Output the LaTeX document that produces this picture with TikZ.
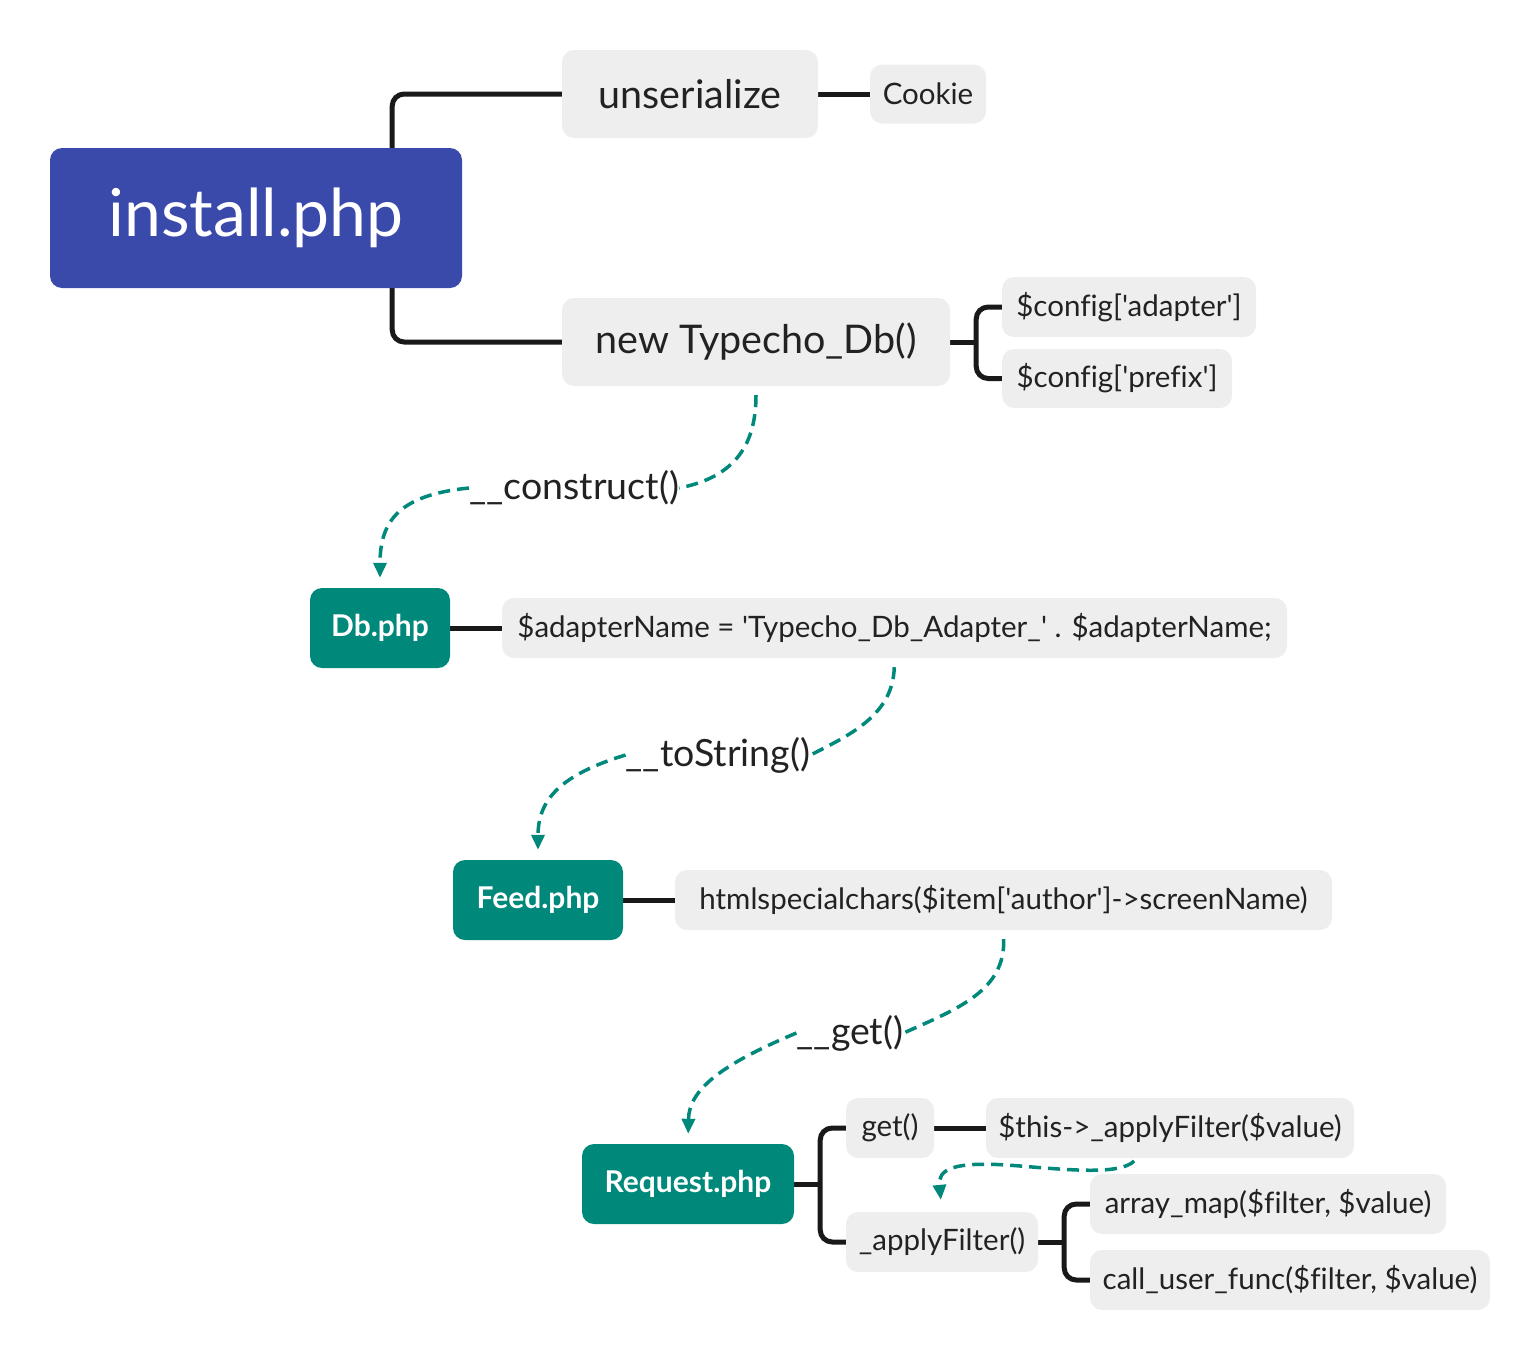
\documentclass[tikz,border=0pt]{standalone}
\usepackage{fontspec}
\setmainfont{Lato}[Ligatures={TeXOff,NoCommon}]
\usetikzlibrary{arrows.meta,backgrounds}
\definecolor{xmblue}{RGB}{58,74,171}
\definecolor{xmteal}{RGB}{0,137,123}
\definecolor{xmgray}{RGB}{238,238,238}
\definecolor{xmtext}{RGB}{34,34,34}

\tikzset{
  box/.style={rounded corners=12pt, inner sep=0pt, text=xmtext},
  mainbox/.style={box, fill=xmblue, text=white, font=\fontsize{66}{78}\selectfont},
  topicbox/.style={box, fill=xmgray, font=\fontsize{39.5}{46}\selectfont},
  subbox/.style={box, fill=xmgray, font=\fontsize{29.5}{36}\selectfont},
  filebox/.style={box, fill=xmteal, text=white, font=\bfseries\fontsize{30}{36}\selectfont},
  calllabel/.style={inner sep=0pt, text=xmtext, font=\fontsize{37.5}{44}\selectfont},
  branch/.style={line width=5pt, rounded corners=12pt, black!90},
  dlink/.style={xmteal, line width=3.5pt, dash pattern=on 12pt off 7pt},
  dtip/.style={-{Triangle[width=13pt,length=15pt]}}
}

\begin{document}
\begin{tikzpicture}[x=1pt, y=-1pt]
    \useasboundingbox (0,0) rectangle (1540,1360);

    % root and first level
    \node[mainbox, minimum width=412pt, minimum height=140pt] (install) at (256,218) {install.php};
    \node[topicbox, minimum width=256pt, minimum height=88pt] (unser) at (690,94) {unserialize};
    \node[subbox, minimum width=116pt, minimum height=59pt] (cookie) at (928,94) {Cookie};
    \node[topicbox, minimum width=388pt, minimum height=88pt] (tdb) at (756,342) {new Typecho\_Db()};
    \node[subbox, minimum width=254pt, minimum height=60pt] (cadapter) at (1129,307) {\$config['adapter']};
    \node[subbox, minimum width=230pt, minimum height=59pt] (cprefix) at (1117,378.5) {\$config['prefix']};

    % Db.php
    \node[filebox, minimum width=140pt, minimum height=80pt] (db) at (380,628) {Db.php};
    \node[subbox, minimum width=785pt, minimum height=60pt] (adapter) at (894.5,628) {\$adapterName = 'Typecho\_Db\_Adapter\_' . \$adapterName;};

    % Feed.php
    \node[filebox, minimum width=170pt, minimum height=80pt] (feed) at (538,900) {Feed.php};
    \node[subbox, minimum width=657pt, minimum height=60pt] (html) at (1003.5,900) {htmlspecialchars(\$item['author']->screenName)};

    % Request.php
    \node[filebox, minimum width=212pt, minimum height=80pt] (request) at (688,1184) {Request.php};
    \node[subbox, minimum width=88pt, minimum height=60pt] (get) at (890,1128) {get()};
    \node[subbox, minimum width=368pt, minimum height=60pt] (this) at (1170,1128) {\$this->\_applyFilter(\$value)};
    \node[subbox, minimum width=192pt, minimum height=60pt] (apply) at (942,1242) {\_applyFilter()};
    \node[subbox, minimum width=356pt, minimum height=60pt] (amap) at (1268,1204) {array\_map(\$filter, \$value)};
    \node[subbox, minimum width=400pt, minimum height=60pt] (cuf) at (1290,1280) {call\_user\_func(\$filter, \$value)};

    % call labels
    \node[calllabel] (construct) at (574,488) {\_\_construct()};
    \node[calllabel] (tostring) at (718,755) {\_\_toString()};
    \node[calllabel] (getlbl) at (850,1033) {\_\_get()};

    % branches
    \begin{scope}[on background layer]
    \draw[branch] (unser.west) -| ([xshift=-70pt]install.east) |- (tdb.west);
    \draw[branch] (unser.east) -- (cookie.west);
    \draw[branch] (tdb.east) -- ++(26,0);
    \draw[branch] (cadapter.west) -| ([xshift=26pt]tdb.east) |- (cprefix.west);
    \draw[branch] (db.east) -- (adapter.west);
    \draw[branch] (feed.east) -- (html.west);
    \draw[branch] (request.east) -- ++(26,0);
    \draw[branch] (get.west) -| ([xshift=26pt]request.east) |- (apply.west);
    \draw[branch] (get.east) -- (this.west);
    \draw[branch] (apply.east) -- ++(26,0);
    \draw[branch] (amap.west) -| ([xshift=26pt]apply.east) |- (cuf.west);
    \end{scope}

    % dashed call links
    \draw[dlink, shorten <=9pt] (tdb.south) .. controls (756,450) and (730,478) .. (construct.east);
    \draw[dlink, dtip, shorten >=10pt] (construct.west) .. controls (400,495) and (380,520) .. (db.north);

    \draw[dlink, shorten <=9pt] (adapter.south) .. controls (893,715) and (850,735) .. (tostring.east);
    \draw[dlink, dtip, shorten >=10pt] (tostring.west) .. controls (560,775) and (538,800) .. (feed.north);

    \draw[dlink, shorten <=9pt] (html.south) .. controls (1005,990) and (960,1008) .. (getlbl.east);
    \draw[dlink, dtip, shorten >=10pt] (getlbl.west) .. controls (720,1065) and (689,1090) .. (request.north);

    \draw[dlink, dtip, shorten <=4pt, shorten >=12pt] ([xshift=-33pt]this.south) .. controls (1120,1175) and (1070,1170) .. (1020,1166) .. controls (950,1160) and (938,1170) .. (apply.north);

\end{tikzpicture}
\end{document}
